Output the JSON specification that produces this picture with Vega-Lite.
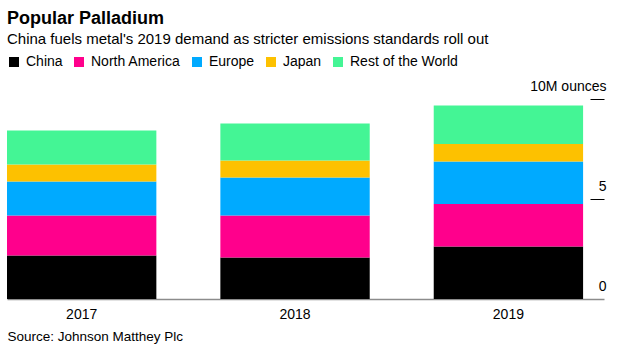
{
  "$schema": "https://vega.github.io/schema/vega-lite/v6.json",
  "width": 597,
  "height": 200,
  "autosize": {"type": "none"},
  "padding": {"left": 7, "top": 99, "right": 19, "bottom": 53},
  "background": "white",
  "title": {
    "text": "Popular Palladium",
    "subtitle": "China fuels metal's 2019 demand as stricter emissions standards roll out",
    "anchor": "start",
    "frame": "group",
    "font": "Liberation Sans",
    "fontSize": 18,
    "fontWeight": "bold",
    "color": "#000000",
    "subtitleFont": "Liberation Sans",
    "subtitleFontSize": 15,
    "subtitleColor": "#000000",
    "subtitlePadding": 4,
    "offset": 8
  },
  "data": {
    "values": [
      {"year": "2017", "region": "China", "value": 2.17},
      {"year": "2017", "region": "North America", "value": 2.0},
      {"year": "2017", "region": "Europe", "value": 1.7},
      {"year": "2017", "region": "Japan", "value": 0.85},
      {"year": "2017", "region": "Rest of the World", "value": 1.7},
      {"year": "2018", "region": "China", "value": 2.07},
      {"year": "2018", "region": "North America", "value": 2.1},
      {"year": "2018", "region": "Europe", "value": 1.9},
      {"year": "2018", "region": "Japan", "value": 0.85},
      {"year": "2018", "region": "Rest of the World", "value": 1.85},
      {"year": "2019", "region": "China", "value": 2.62},
      {"year": "2019", "region": "North America", "value": 2.13},
      {"year": "2019", "region": "Europe", "value": 2.12},
      {"year": "2019", "region": "Japan", "value": 0.88},
      {"year": "2019", "region": "Rest of the World", "value": 1.92}
    ]
  },
  "transform": [
    {"calculate": "indexof(['China', 'North America', 'Europe', 'Japan', 'Rest of the World'], datum.region)", "as": "stackOrder"}
  ],
  "mark": {"type": "bar"},
  "encoding": {
    "x": {
      "field": "year",
      "type": "nominal",
      "scale": {"paddingInner": 0.3, "paddingOuter": 0.049, "align": 0},
      "axis": {
        "title": "Source: Johnson Matthey Plc",
        "titleAnchor": "start",
        "titleAlign": "left",
        "titleX": 0,
        "titleY": 41,
        "titleBaseline": "alphabetic",
        "titleFont": "Liberation Sans",
        "titleFontSize": 13.5,
        "titleFontWeight": "normal",
        "titleColor": "#000000",
        "labelAngle": 0,
        "labelFont": "Liberation Sans",
        "labelFontSize": 14,
        "labelColor": "#000000",
        "labelPadding": 8,
        "ticks": false,
        "domainColor": "#8c8c8c",
        "domainWidth": 1.5
      }
    },
    "y": {
      "field": "value",
      "type": "quantitative",
      "stack": "zero",
      "scale": {"domain": [0, 10]},
      "axis": {
        "orient": "right",
        "values": [0, 5, 10],
        "offset": -14,
        "tickSize": 14,
        "tickColor": {"condition": {"test": "datum.value == 0", "value": "transparent"}, "value": "#000000"},
        "tickWidth": 1,
        "domain": false,
        "grid": false,
        "title": null,
        "labelAlign": "right",
        "labelPadding": 2,
        "labelBaseline": "bottom",
        "labelOffset": -6,
        "labelFont": "Liberation Sans",
        "labelFontSize": 14,
        "labelColor": "#000000",
        "labelOverlap": false,
        "labelFlush": false,
        "labelBound": false,
        "labelExpr": "datum.value == 10 ? '10M ounces' : datum.label"
      }
    },
    "color": {
      "field": "region",
      "type": "nominal",
      "sort": ["China", "North America", "Europe", "Japan", "Rest of the World"],
      "scale": {
        "domain": ["China", "North America", "Europe", "Japan", "Rest of the World"],
        "range": ["#000000", "#ff008c", "#00aaff", "#fdc100", "#44f595"]
      },
      "legend": {
        "orient": "none",
        "legendX": 0,
        "legendY": -44,
        "direction": "horizontal",
        "title": null,
        "symbolType": "square",
        "symbolSize": 100,
        "symbolStrokeWidth": 0,
        "symbolOpacity": 1,
        "labelFont": "Liberation Sans",
        "labelFontSize": 14,
        "labelColor": "#000000",
        "labelOffset": 5,
        "columnPadding": 9,
        "padding": 0
      }
    },
    "order": {"field": "stackOrder", "type": "quantitative", "sort": "ascending"}
  },
  "config": {"view": {"stroke": null}}
}
